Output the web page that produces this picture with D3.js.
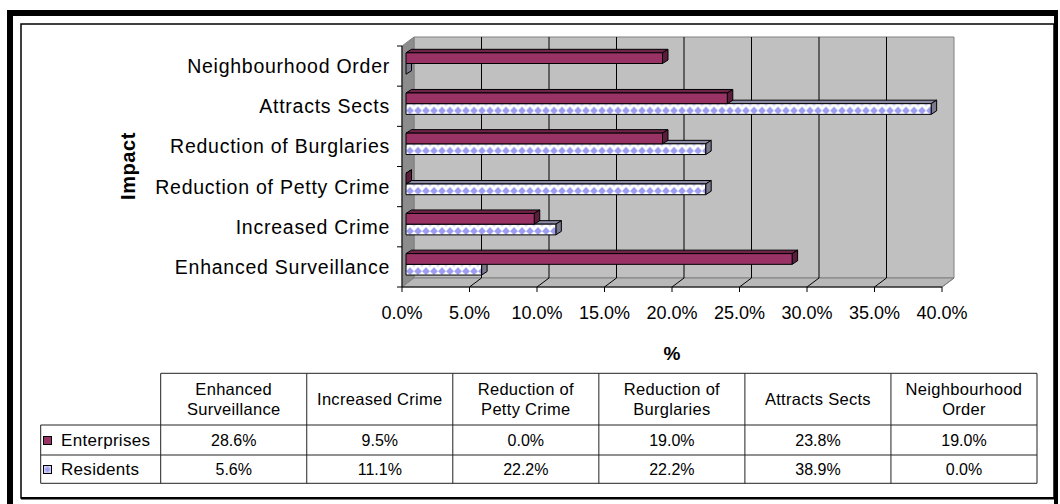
<!DOCTYPE html>
<html>
<head>
<meta charset="utf-8">
<script src="https://cdn.jsdelivr.net/npm/d3@7"></script>
<style>
  body { margin: 0; background: #fff; }
  svg { display: block; font-family: "Liberation Sans", Arial, sans-serif; }
</style>
</head>
<body>
<svg id="chart" width="1060" height="504"></svg>
<script>
// ---- data ----
const categories = ["Enhanced Surveillance", "Increased Crime", "Reduction of Petty Crime",
                    "Reduction of Burglaries", "Attracts Sects", "Neighbourhood Order"];
const headerLines = [["Enhanced", "Surveillance"], ["Increased Crime"], ["Reduction of", "Petty Crime"],
                     ["Reduction of", "Burglaries"], ["Attracts Sects"], ["Neighbourhood", "Order"]];
const seriesNames = ["Enterprises", "Residents"];
const enterprises = [28.6, 9.5, 0.0, 19.0, 23.8, 19.0];
const residents = [5.6, 11.1, 22.2, 22.2, 38.9, 0.0];
const xTicks = [0, 5, 10, 15, 20, 25, 30, 35, 40];

const svg = d3.select("#chart");
const fmt = v => v.toFixed(1) + "%";

// ---- frame ----
svg.append("rect").attr("x", 7).attr("y", 10).attr("width", 6).attr("height", 494).attr("fill", "#000");
svg.append("rect").attr("x", 7).attr("y", 10).attr("width", 1051).attr("height", 6).attr("fill", "#000");
svg.append("rect").attr("x", 1054).attr("y", 10).attr("width", 4).attr("height", 494).attr("fill", "#000");
svg.append("rect").attr("x", 21).attr("y", 24).attr("width", 1033).attr("height", 474)
  .attr("fill", "none").attr("stroke", "#000").attr("stroke-width", 1.5);
svg.append("rect").attr("x", 21).attr("y", 497).attr("width", 1037).attr("height", 2.5).attr("fill", "#000");

// ---- 3D plot geometry ----
const x = d3.scaleLinear().domain([0, 40]).range([402, 942]);
const y = d3.scaleBand().domain(categories.slice().reverse()).range([46, 287]);
const depth = { dx: 12, dy: -9 };      // wall depth
const barOff = { dx: 4, dy: -3 };      // bar front plane inside the depth
const barDepth = { dx: 5.5, dy: -3.5 };
const barH = 10.7;
const yTop = y.range()[0], yBot = y.range()[1];
const pts = a => a.map(p => p.join(",")).join(" ");

const plot = svg.append("g");

// back wall
plot.append("polygon")
  .attr("points", pts([[x(0) + depth.dx, yTop + depth.dy], [x(40) + depth.dx, yTop + depth.dy],
                       [x(40) + depth.dx, yBot + depth.dy], [x(0) + depth.dx, yBot + depth.dy]]))
  .attr("fill", "#c0c0c0").attr("stroke", "#808080").attr("stroke-width", 1);
// side wall
plot.append("polygon")
  .attr("points", pts([[x(0), yTop], [x(0) + depth.dx, yTop + depth.dy],
                       [x(0) + depth.dx, yBot + depth.dy], [x(0), yBot]]))
  .attr("fill", "#8c8c8c").attr("stroke", "#808080").attr("stroke-width", 1);
// floor
plot.append("polygon")
  .attr("points", pts([[x(0), yBot], [x(40), yBot], [x(40) + depth.dx, yBot + depth.dy], [x(0) + depth.dx, yBot + depth.dy]]))
  .attr("fill", "#b8b8b8").attr("stroke", "#808080").attr("stroke-width", 1);

// gridlines on wall and floor
const inner = xTicks.filter(t => t > 0 && t < 40);
plot.selectAll("line.gw").data(inner).join("line").attr("class", "gw")
  .attr("x1", d => x(d) + depth.dx).attr("x2", d => x(d) + depth.dx)
  .attr("y1", yTop + depth.dy).attr("y2", yBot + depth.dy)
  .attr("stroke", "#000").attr("stroke-width", 1);
plot.selectAll("line.gf").data(xTicks.filter(t => t > 0)).join("line").attr("class", "gf")
  .attr("x1", d => x(d)).attr("x2", d => x(d) + depth.dx)
  .attr("y1", yBot).attr("y2", yBot + depth.dy)
  .attr("stroke", d => d === 40 ? "#808080" : "#000").attr("stroke-width", 1);

// axes
plot.append("line").attr("x1", x(0)).attr("x2", x(40)).attr("y1", yBot).attr("y2", yBot).attr("stroke", "#000");
plot.selectAll("line.xt").data(xTicks).join("line").attr("class", "xt")
  .attr("x1", d => x(d)).attr("x2", d => x(d)).attr("y1", yBot).attr("y2", yBot + 5).attr("stroke", "#000");
plot.append("line").attr("x1", x(0)).attr("x2", x(0)).attr("y1", yTop).attr("y2", yBot).attr("stroke", "#000");
const bounds = y.domain().map(c => y(c)).concat([yBot]);
plot.selectAll("line.yt").data(bounds).join("line").attr("class", "yt")
  .attr("x1", x(0) - 5).attr("x2", x(0)).attr("y1", d => d).attr("y2", d => d).attr("stroke", "#000");

// ---- bars ----
const defs = svg.append("defs");
function residentPattern(id, ox, oy) {
  const p = defs.append("pattern").attr("id", id).attr("patternUnits", "userSpaceOnUse")
    .attr("width", 8).attr("height", barH).attr("patternTransform", `translate(${ox},${oy})`);
  p.append("rect").attr("width", 8).attr("height", barH).attr("fill", "#ffffff");
  p.append("polygon").attr("points", "4,3 8,7 4,10.7 0,7").attr("fill", "#9e9ef0");
  p.append("polygon").attr("points", "0,0 2.5,0 0,3").attr("fill", "#d4d4fa");
  p.append("polygon").attr("points", "8,0 5.5,0 8,3").attr("fill", "#d4d4fa");
}

const series = [
  { name: "Residents", values: residents, row: 1, front: null, top: "#8a8aa6", end: "#7a7a8c" },
  { name: "Enterprises", values: enterprises, row: 0, front: "#993366", top: "#6e2449", end: "#5c1d3d" }
];

categories.forEach((cat, i) => {
  series.forEach(s => {
    const v = s.values[i];
    const x0 = x(0) + barOff.dx, x1 = x(v) + barOff.dx;
    const y0 = y(cat) + barOff.dy + 9.8 + s.row * barH, y1 = y0 + barH;
    const g = plot.append("g").attr("stroke", "#000").attr("stroke-width", 1).attr("stroke-linejoin", "round");
    let frontFill = s.front;
    if (!frontFill) {
      const id = "res" + i;
      residentPattern(id, x0, y0);
      frontFill = `url(#${id})`;
    }
    // top face
    g.append("polygon").attr("points", pts([[x0, y0], [x1, y0], [x1 + barDepth.dx, y0 + barDepth.dy], [x0 + barDepth.dx, y0 + barDepth.dy]]))
      .attr("fill", s.top);
    // end face
    g.append("polygon").attr("points", pts([[x1, y0], [x1 + barDepth.dx, y0 + barDepth.dy], [x1 + barDepth.dx, y1 + barDepth.dy], [x1, y1]]))
      .attr("fill", s.end);
    // front face
    if (v > 0) {
      g.append("rect").attr("x", x0).attr("y", y0).attr("width", x1 - x0).attr("height", barH).attr("fill", frontFill);
    }
  });
});

// ---- labels ----
svg.selectAll("text.cat").data(categories).join("text").attr("class", "cat")
  .attr("x", 390).attr("y", d => y(d) + y.bandwidth() / 2 + 7)
  .attr("text-anchor", "end").attr("font-size", 19.5).attr("letter-spacing", 0.75)
  .text(d => d);

svg.selectAll("text.xl").data(xTicks).join("text").attr("class", "xl")
  .attr("x", d => x(d)).attr("y", 318.5).attr("text-anchor", "middle").attr("font-size", 18)
  .text(d => fmt(d));

svg.append("text").attr("x", 672).attr("y", 360).attr("text-anchor", "middle")
  .attr("font-size", 19).attr("font-weight", "bold").text("%");

svg.append("text").attr("transform", "translate(135,166) rotate(-90)")
  .attr("text-anchor", "middle").attr("font-size", 20).attr("font-weight", "bold")
  .attr("letter-spacing", 0.6).text("Impact");

// ---- data table ----
const col = d3.scaleBand().domain(categories).range([160.7, 1037]);
const rowTop = [373.3, 425, 455, 483.3];
const table = svg.append("g").attr("stroke", "#222").attr("stroke-width", 1);
// horizontal rules
table.append("line").attr("x1", col.range()[0]).attr("x2", col.range()[1]).attr("y1", rowTop[0]).attr("y2", rowTop[0]);
[1, 2, 3].forEach(r => table.append("line").attr("x1", 40.7).attr("x2", col.range()[1]).attr("y1", rowTop[r]).attr("y2", rowTop[r]));
// vertical rules
categories.concat([null]).forEach(c => {
  const xx = c ? col(c) : col.range()[1];
  table.append("line").attr("x1", xx).attr("x2", xx).attr("y1", rowTop[0]).attr("y2", rowTop[3]);
});
table.append("line").attr("x1", 40.7).attr("x2", 40.7).attr("y1", rowTop[1]).attr("y2", rowTop[3]);

// header text
categories.forEach((c, i) => {
  const lines = headerLines[i];
  const cy = (rowTop[0] + rowTop[1]) / 2;
  lines.forEach((ln, k) => {
    svg.append("text").attr("x", col(c) + col.bandwidth() / 2)
      .attr("y", cy + (k - (lines.length - 1) / 2) * 20 + 6)
      .attr("text-anchor", "middle").attr("font-size", 16.5).attr("letter-spacing", 0.3).text(ln);
  });
});

// row values and legend labels
const rows = [enterprises, residents];
rows.forEach((vals, r) => {
  const cy = (rowTop[r + 1] + rowTop[r + 2]) / 2;
  categories.forEach((c, i) => {
    svg.append("text").attr("x", col(c) + col.bandwidth() / 2).attr("y", cy + 6)
      .attr("text-anchor", "middle").attr("font-size", 16).text(fmt(vals[i]));
  });
  svg.append("text").attr("x", 61).attr("y", cy + 6).attr("font-size", 17)
    .attr("letter-spacing", 0.3).text(seriesNames[r]);
});
// legend keys
svg.append("rect").attr("x", 43.5).attr("y", 436.5).attr("width", 8).attr("height", 8)
  .attr("fill", "#993366").attr("stroke", "#000");
const keyPat = defs.append("pattern").attr("id", "keyRes").attr("patternUnits", "userSpaceOnUse")
  .attr("width", 8).attr("height", 8).attr("patternTransform", "translate(43.5,465.5)");
keyPat.append("rect").attr("width", 8).attr("height", 8).attr("fill", "#d0d0f8");
keyPat.append("polygon").attr("points", "4,1 7,4 4,7 1,4").attr("fill", "#9c9cee");
svg.append("rect").attr("x", 43.5).attr("y", 465.5).attr("width", 8).attr("height", 8)
  .attr("fill", "url(#keyRes)").attr("stroke", "#000");
</script>
</body>
</html>
